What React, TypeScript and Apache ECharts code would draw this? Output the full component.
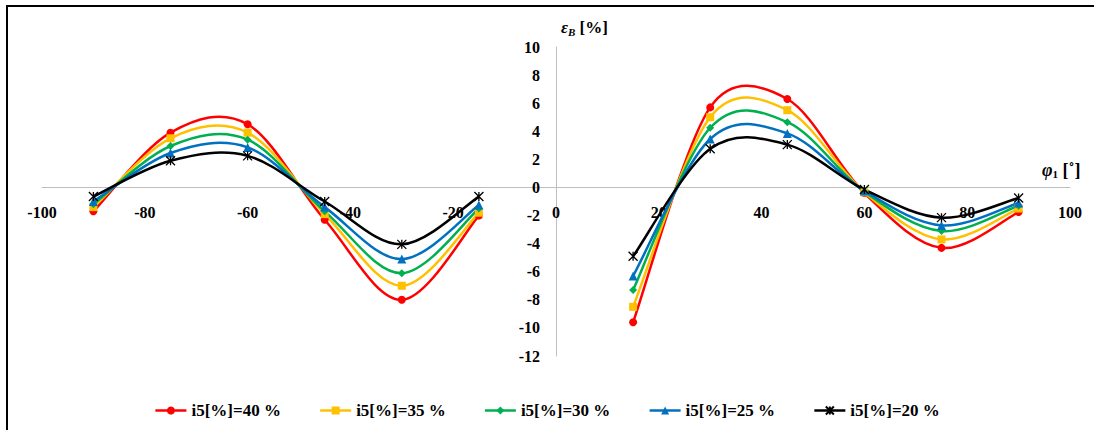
import React, { useEffect, useRef } from "react";
import * as echarts from "echarts";

const xLeft = [-90, -75, -60, -45, -30, -15];
const xRight = [15, 30, 45, 60, 75, 90];
const seriesNames = ["i5[%]=40 %", "i5[%]=35 %", "i5[%]=30 %", "i5[%]=25 %", "i5[%]=20 %"];
const leftValues = [
  [-1.7, 3.9, 4.5, -2.3, -8.0, -2.0],
  [-1.4, 3.5, 3.9, -1.9, -7.0, -1.8],
  [-1.2, 2.95, 3.4, -1.7, -6.1, -1.5],
  [-1.0, 2.45, 2.85, -1.4, -5.1, -1.25],
  [-0.65, 1.9, 2.25, -1.0, -4.05, -0.65],
];
const rightValues = [
  [-9.6, 5.7, 6.3, -0.4, -4.3, -1.75],
  [-8.5, 5.0, 5.5, -0.35, -3.7, -1.5],
  [-7.3, 4.25, 4.65, -0.3, -3.1, -1.3],
  [-6.3, 3.45, 3.85, -0.25, -2.7, -1.1],
  [-4.9, 2.75, 3.05, -0.15, -2.15, -0.75],
];
const xMin = -100, xMax = 100, xStep = 20;
const yMin = -12, yMax = 10, yStep = 2;

const colors = ["#FF0000", "#FFC000", "#00B050", "#0070C0", "#000000"];
const symbols = [
  "circle",
  "rect",
  "diamond",
  "triangle",
  "path://M0,0L10,10M10,0L0,10M5,0L5,10",
];
const symbolSizes = [8, 8, 8, 9, 9];

type P = number[];
function smoothPath(pts: P[]): string {
  if (!pts.length) return "";
  let d = `M${pts[0][0]},${pts[0][1]}`;
  const dist = (a: P, b: P) => Math.hypot(a[0] - b[0], a[1] - b[1]);
  for (let i = 0; i < pts.length - 1; i++) {
    const p0 = pts[i - 1] || pts[i];
    const p1 = pts[i];
    const p2 = pts[i + 1];
    const p3 = pts[i + 2] || pts[i + 1];
    const d12 = dist(p1, p2);
    const d02 = dist(p0, p2);
    const d13 = dist(p1, p3);
    let f1 = 1 / 6, f2 = 1 / 6;
    if (d02 > 0 && d02 / 6 > d12 / 2) f1 = d12 / (2 * d02);
    if (d13 > 0 && d13 / 6 > d12 / 2) f2 = d12 / (2 * d13);
    const c1 = [p1[0] + (p2[0] - p0[0]) * f1, p1[1] + (p2[1] - p0[1]) * f1];
    const c2 = [p2[0] - (p3[0] - p1[0]) * f2, p2[1] - (p3[1] - p1[1]) * f2];
    d += ` C${c1[0]},${c1[1]} ${c2[0]},${c2[1]} ${p2[0]},${p2[1]}`;
  }
  return d;
}

const W = 1094, H = 430;
const G = { left: 42, right: 24, top: 47, bottom: 74 };

export default function App() {
  const ref = useRef<HTMLDivElement>(null);
  useEffect(() => {
    if (!ref.current) return;
    const chart = echarts.init(ref.current, null, { renderer: "svg" });
    const gw = W - G.left - G.right;
    const gh = H - G.top - G.bottom;
    // distance from grid edges to the zero lines
    const xAxisOffset = -(gh * (0 - yMin)) / (yMax - yMin);
    const yAxisOffset = -(gw * (0 - xMin)) / (xMax - xMin);
    const labelFont = {
      fontFamily: "Liberation Serif",
      fontWeight: "bold" as const,
      fontSize: 16,
      color: "#000",
    };
    const markerSeries = seriesNames.map((name, k) => ({
      type: "line",
      name,
      z: 3,
      data: [
        ...xLeft.map((x, i) => [x, leftValues[k][i]]),
        ...xRight.map((x, i) => [x, rightValues[k][i]]),
      ],
      symbol: symbols[k],
      symbolSize: symbolSizes[k],
      showSymbol: true,
      lineStyle: { opacity: 0, color: colors[k], width: 2.5 },
      itemStyle: {
        color: colors[k],
        borderColor: colors[k],
        borderWidth: k === 4 ? 1.3 : 0,
      },
      emphasis: { disabled: true },
    }));
    const curveSeries = seriesNames.map((name, k) => ({
      type: "custom",
      name,
      z: 2,
      silent: true,
      data: [[0, 0]],
      renderItem: (_params: any, api: any) => {
        const l = xLeft.map((x, i) => api.coord([x, leftValues[k][i]]));
        const r = xRight.map((x, i) => api.coord([x, rightValues[k][i]]));
        return {
          type: "path",
          shape: { pathData: smoothPath(l) + " " + smoothPath(r) },
          style: { fill: "none", stroke: colors[k], lineWidth: 2.5 },
        };
      },
    }));
    chart.setOption({
      animation: false,
      grid: G,
      xAxis: {
        type: "value",
        min: xMin,
        max: xMax,
        interval: xStep,
        position: "bottom",
        offset: xAxisOffset,
        axisLine: { onZero: false, lineStyle: { color: "#BFBFBF", width: 1 } },
        axisTick: { show: false },
        splitLine: { show: false },
        axisLabel: { ...labelFont, margin: 17 },
      },
      yAxis: {
        type: "value",
        min: yMin,
        max: yMax,
        interval: yStep,
        position: "left",
        offset: yAxisOffset,
        axisLine: { show: true, onZero: false, lineStyle: { color: "#BFBFBF", width: 1 } },
        axisTick: { show: false },
        splitLine: { show: false },
        axisLabel: { ...labelFont, margin: 16 },
      },
      legend: {
        left: "center",
        top: 397,
        itemWidth: 31,
        itemHeight: 10,
        itemGap: 38,
        data: seriesNames.map((n, k) => ({
          name: n,
          lineStyle: { opacity: 1, color: colors[k], width: 2.5 },
        })),
        textStyle: {
          fontFamily: "Liberation Serif",
          fontWeight: "bold",
          fontSize: 17,
          color: "#000",
        },
      },
      graphic: [
        {
          type: "rect",
          shape: { x: 7, y: 6, width: 1100, height: 440 },
          style: { fill: "none", stroke: "#000", lineWidth: 2 },
          silent: true,
        },
        {
          type: "text",
          x: 561,
          y: 18,
          style: {
            text: "{e|ε}{s|B}{n| [%]}",
            rich: {
              e: { fontFamily: "Liberation Serif", fontStyle: "italic", fontWeight: "bold", fontSize: 17, fill: "#000" },
              s: { fontFamily: "Liberation Serif", fontStyle: "italic", fontWeight: "bold", fontSize: 11, fill: "#000", padding: [8, 0, 0, 0] },
              n: { fontFamily: "Liberation Serif", fontWeight: "bold", fontSize: 17, fill: "#000" },
            },
          },
        },
        {
          type: "text",
          x: 1042,
          y: 160,
          style: {
            text: "{e|φ}{s|1}{n| [˚]}",
            rich: {
              e: { fontFamily: "Liberation Serif", fontStyle: "italic", fontWeight: "bold", fontSize: 18, fill: "#000" },
              s: { fontFamily: "Liberation Serif", fontWeight: "bold", fontSize: 11, fill: "#000", padding: [8, 0, 0, 0] },
              n: { fontFamily: "Liberation Serif", fontWeight: "bold", fontSize: 18, fill: "#000" },
            },
          },
        },
      ],
      series: [...markerSeries, ...curveSeries],
    });
    return () => chart.dispose();
  }, []);
  return (
    <div
      ref={ref}
      style={{ position: "fixed", left: 0, top: 0, width: W, height: H, background: "#fff" }}
    />
  );
}
